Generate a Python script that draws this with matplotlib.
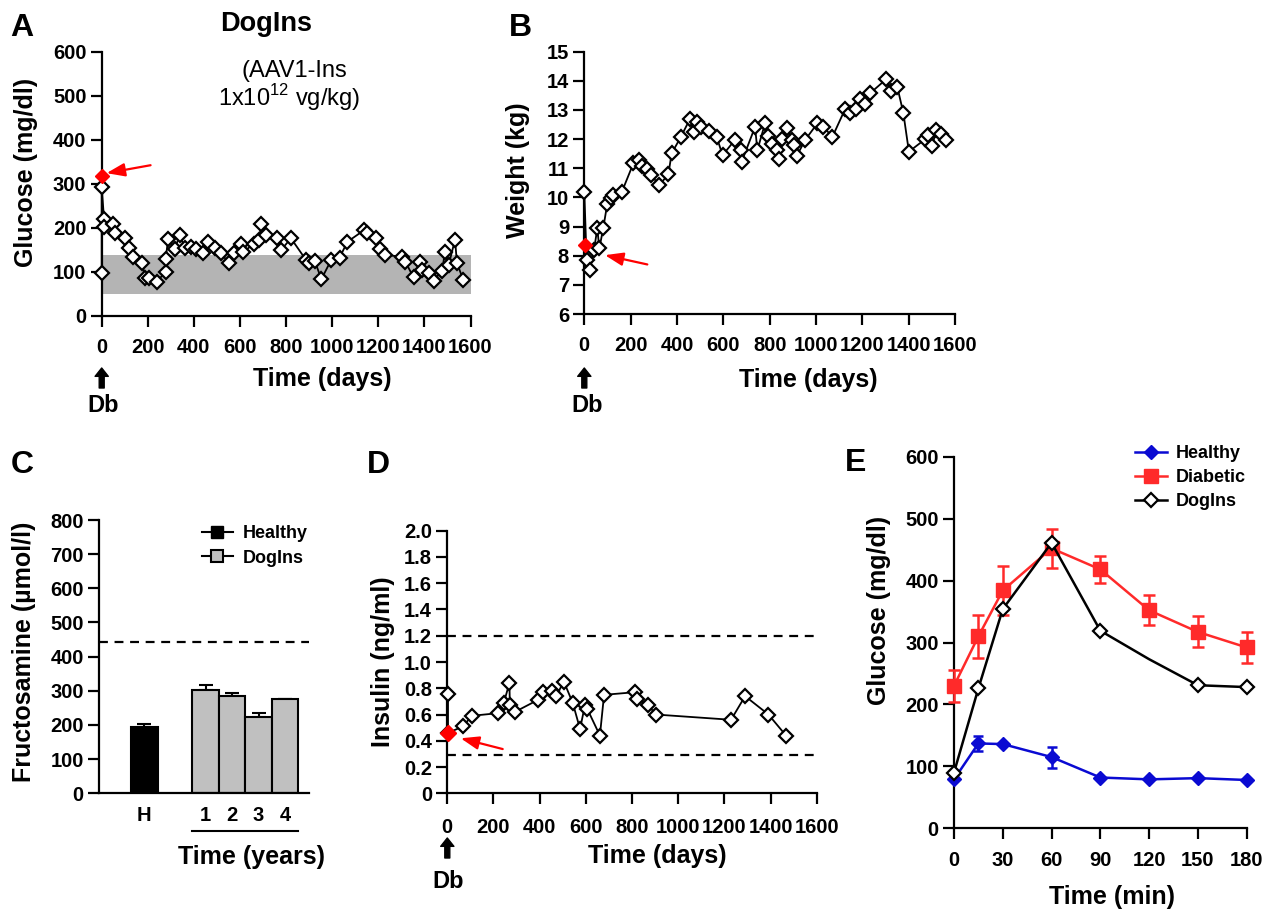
import numpy as np
import matplotlib
matplotlib.use('Agg')
import matplotlib.pyplot as plt
from matplotlib.lines import Line2D

# ---- data ----
# A: blood glucose over time
glu_days = [0, 0, 10, 10, 48, 58, 101, 120, 137, 177, 187, 206, 238, 278, 278, 288, 317, 338, 360, 389,
            410, 439, 461, 490, 518, 551, 576, 605, 612, 662, 684, 691, 713, 759, 778, 821, 886, 900, 924, 953,
            996, 1032, 1066, 1140, 1152, 1188, 1209, 1231, 1303, 1317, 1353, 1382, 1390, 1418, 1440, 1476, 1490,
            1505, 1533, 1541, 1569]
glu_values = [98, 293, 220, 201, 208, 189, 177, 153, 134, 119, 85, 85, 77, 100, 130, 174, 151, 183, 155, 157,
              151, 143, 168, 153, 142, 120, 142, 164, 144, 164, 173, 208, 183, 176, 149, 176, 127, 120, 125, 83,
              127, 132, 168, 195, 189, 176, 151, 138, 134, 123, 87, 121, 104, 96, 80, 102, 145, 115, 173, 120, 81]
glu_db = (3, 317)
glu_normal_range = (50, 138)

# B: body weight over time
wt_days = [0, 10, 24, 42, 56, 65, 82, 99, 114, 125, 161, 212, 236, 247, 272, 288, 324, 363, 377, 417,
           456, 473, 485, 504, 540, 571, 597, 650, 675, 679, 737, 747, 780, 794, 811, 830, 840, 852, 876, 895,
           905, 917, 953, 1006, 1032, 1071, 1125, 1146, 1173, 1190, 1211, 1233, 1302, 1322, 1351, 1377, 1401,
           1470, 1485, 1502, 1518, 1538, 1561]
wt_values = [10.19, 7.85, 7.51, 8.19, 8.94, 8.25, 8.96, 9.77, 9.97, 10.08, 10.17, 11.17, 11.30, 11.07, 10.99,
             10.77, 10.42, 10.80, 11.51, 12.08, 12.69, 12.23, 12.59, 12.40, 12.29, 12.08, 11.45, 11.97, 11.62,
             11.22, 12.42, 11.62, 12.54, 12.10, 11.85, 11.62, 11.31, 12.02, 12.37, 11.97, 11.79, 11.42, 11.97,
             12.54, 12.42, 12.08, 13.02, 12.90, 13.02, 13.39, 13.20, 13.57, 14.05, 13.65, 13.79, 12.90, 11.57,
             11.99, 12.14, 11.76, 12.31, 12.17, 11.97]
wt_db = (3, 8.37)

# C: fructosamine
fru_labels = ['H', '1', '2', '3', '4']
fru_healthy = 195
fru_healthy_se = 7
fru_dogins = [302, 286, 222, 275]
fru_dogins_se = [15, 7, 14, 2]
fru_limit = 444

# D: insulin over time
ins_days = [3, 3, 69, 105, 218, 245, 269, 271, 293, 391, 416, 452, 471, 505, 543, 575, 596, 607, 661, 679,
            813, 823, 871, 903, 1229, 1290, 1391, 1467]
ins_values = [0.76, 0.46, 0.51, 0.59, 0.61, 0.69, 0.84, 0.67, 0.62, 0.71, 0.77, 0.78, 0.74, 0.85, 0.69, 0.49,
              0.67, 0.64, 0.44, 0.75, 0.77, 0.72, 0.67, 0.60, 0.56, 0.74, 0.60, 0.44]
ins_db = (3, 0.46)
ins_range = (0.29, 1.20)

# E: glucose tolerance test
ogtt_time = [0, 15, 30, 60, 90, 120, 150, 180]
ogtt_healthy = [79, 137, 136, 115, 82, 79, 81, 78]
ogtt_healthy_se = [0, 12, 0, 17, 0, 0, 0, 0]
ogtt_diabetic = [230, 310, 384, 452, 418, 352, 317, 292]
ogtt_diabetic_se = [26, 35, 40, 31, 22, 24, 25, 25]
ogtt_dogins = [90, 226, 354, 461, 319, 273, 231, 228]

# ---- figure setup ----
plt.rcParams['font.family'] = ['Liberation Sans', 'DejaVu Sans']
plt.rcParams['font.weight'] = 'bold'
plt.rcParams['axes.labelweight'] = 'bold'

W, H = 1267, 911
fig = plt.figure(figsize=(W / 100, H / 100), dpi=100)

BLUE = '#0a0ad2'
RED = '#ff2a2a'


def rect(x0, y0, x1, y1):
    # pixel box -> figure fraction
    return [x0 / W, 1 - y1 / H, (x1 - x0) / W, (y1 - y0) / H]


def ftext(x, y, s, **kw):
    fig.text(x / W, 1 - y / H, s, ha='center', va='center', **kw)


def style(ax, xpad=8):
    for s in ['top', 'right']:
        ax.spines[s].set_visible(False)
    for s in ['left', 'bottom']:
        ax.spines[s].set_linewidth(1.6)
    ax.tick_params(direction='out', length=8, width=1.6, labelsize=14.5)
    ax.tick_params(axis='x', pad=xpad)
    ax.tick_params(axis='y', pad=3)


def db_arrow(ax, y_top, y_bot):
    ax.annotate('', xy=(0, H - y_top), xytext=(0, H - y_bot),
                xycoords=('data', 'figure pixels'), textcoords=('data', 'figure pixels'),
                arrowprops=dict(facecolor='k', edgecolor='k', width=3.6, headwidth=9.5,
                                headlength=6, shrink=0), annotation_clip=False)


def red_arrow(ax, head, tail):
    ax.annotate('', xy=head, xytext=tail,
                arrowprops=dict(arrowstyle='-|>,head_length=0.55,head_width=0.2', color='red',
                                lw=1.6, mutation_scale=20, shrinkA=0, shrinkB=0))


diamond = dict(marker='D', ms=6.8, mfc='white', mec='k', mew=1.6, color='k', lw=1.3, clip_on=False)
red_diamond = dict(marker='D', ms=7, mfc='red', mec='red', ls='none', clip_on=False, zorder=5)

# ---- A: glucose ----
axA = fig.add_axes(rect(101.7, 51.7, 470.5, 315.7))
style(axA)
axA.axhspan(*glu_normal_range, color='#b4b4b4', lw=0, zorder=0)
axA.plot(glu_days, glu_values, zorder=3, **diamond)
axA.plot(*glu_db, **red_diamond)
axA.set_xlim(0, 1600)
axA.set_ylim(0, 600)
axA.set_xticks(np.arange(0, 1601, 200))
axA.set_yticks(np.arange(0, 601, 100))
red_arrow(axA, (21, 324), (212, 342))
db_arrow(axA, 368, 388)
ftext(103, 406, 'Db', fontsize=17)
ftext(26, 172, 'Glucose (mg/dl)', fontsize=18, rotation=90)
ftext(322, 379, 'Time (days)', fontsize=18)
ftext(22, 28, 'A', fontsize=23)
ftext(266, 24, 'DogIns', fontsize=19.5)
ftext(294, 71, '(AAV1-Ins', fontsize=17, fontweight='normal')
ftext(289, 98, r'1x10$^{\mathregular{12}}$ vg/kg)', fontsize=17, fontweight='normal')

# ---- B: weight ----
axB = fig.add_axes(rect(584.3, 51.7, 955, 314))
style(axB)
axB.plot(wt_days, wt_values, zorder=3, **diamond)
axB.plot(*wt_db, **red_diamond)
axB.set_xlim(0, 1600)
axB.set_ylim(6, 15)
axB.set_xticks(np.arange(0, 1601, 200))
axB.set_yticks(np.arange(6, 16, 1))
red_arrow(axB, (89, 8.02), (272, 7.70))
db_arrow(axB, 368, 388)
ftext(587, 406, 'Db', fontsize=17)
ftext(518, 170, 'Weight (kg)', fontsize=18, rotation=90)
ftext(808, 380, 'Time (days)', fontsize=18)
ftext(520, 28, 'B', fontsize=23)

# ---- C: fructosamine bars ----
axC = fig.add_axes(rect(99, 520, 309, 793.3))
style(axC)
h_pos = 1.67
d_pos = 3.95 + np.arange(len(fru_dogins)) * 0.98
axC.bar(h_pos, fru_healthy, width=1.0, color='k', edgecolor='k', lw=1.5, zorder=2)
axC.bar(d_pos, fru_dogins, width=0.98, color='#c0c0c0', edgecolor='k', lw=1.5, zorder=2)
axC.errorbar([h_pos], [fru_healthy], yerr=[[0], [fru_healthy_se]], fmt='none', ecolor='k',
             elinewidth=1.5, capsize=5, capthick=1.5, zorder=1)
axC.errorbar(d_pos, fru_dogins, yerr=[np.zeros(4), fru_dogins_se], fmt='none', ecolor='k',
             elinewidth=1.5, capsize=5, capthick=1.5, zorder=1)
axC.axhline(fru_limit, color='k', lw=1.6, ls=(0, (4, 3)))
axC.set_xlim(0, 7.78)
axC.set_ylim(0, 800)
axC.set_yticks(np.arange(0, 801, 100))
axC.set_xticks(np.concatenate([[h_pos], d_pos]))
axC.set_xticklabels(fru_labels)
axC.tick_params(axis='x', length=0, pad=9)
axC.plot([d_pos[0] - 0.49, d_pos[-1] + 0.49], [-0.138, -0.138], color='k', lw=1.5,
         transform=axC.get_xaxis_transform(), clip_on=False)
legC = [Line2D([], [], color='k', lw=1.5, marker='s', ms=8, mfc='k', mec='k'),
        Line2D([], [], color='k', lw=1.5, marker='s', ms=8, mfc='#c0c0c0', mec='k', mew=1.5)]
axC.legend(legC, ['Healthy', 'DogIns'], loc='upper left', bbox_to_anchor=(201.7 / W, 1 - 525 / H),
           bbox_transform=fig.transFigure, frameon=False, borderpad=0, borderaxespad=0,
           handlelength=1.75, handletextpad=0.5, labelspacing=0.42, prop={'weight': 'bold', 'size': 13})
ftext(24, 652, 'Fructosamine (µmol/l)', fontsize=18, rotation=90)
ftext(252, 857, 'Time (years)', fontsize=18)
ftext(22, 465, 'C', fontsize=23)

# ---- D: insulin ----
axD = fig.add_axes(rect(447.3, 530.7, 816.7, 793.3))
style(axD, xpad=10)
for lvl in ins_range:
    axD.axhline(lvl, color='k', lw=1.6, ls=(0, (4, 3)))
axD.plot(ins_days, ins_values, zorder=3, **diamond)
axD.plot(*ins_db, marker='D', ms=8.5, mfc='red', mec='red', ls='none', clip_on=False, zorder=5)
axD.set_xlim(0, 1600)
axD.set_ylim(0, 2.0)
axD.set_xticks(np.arange(0, 1601, 200))
yt = np.arange(0, 2.01, 0.2)
axD.set_yticks(yt)
axD.set_yticklabels(['0'] + ['%.1f' % v for v in yt[1:]])
red_arrow(axD, (58, 0.419), (240, 0.337))
db_arrow(axD, 838, 858)
ftext(448, 881, 'Db', fontsize=17)
ftext(383, 662, 'Insulin (ng/ml)', fontsize=18, rotation=90)
ftext(657, 856, 'Time (days)', fontsize=18)
ftext(378, 465, 'D', fontsize=23)

# ---- E: glucose tolerance ----
axE = fig.add_axes(rect(954, 456.7, 1246.7, 828.3))
style(axE)
t = np.array(ogtt_time)
axE.errorbar(t, ogtt_diabetic, yerr=ogtt_diabetic_se, fmt='-s', color=RED, ms=10, lw=1.8,
             elinewidth=1.8, capsize=4.5, capthick=1.8, clip_on=False, zorder=3)
hse = np.array(ogtt_healthy_se)
hv = np.array(ogtt_healthy)
axE.errorbar(t[hse > 0], hv[hse > 0], yerr=hse[hse > 0], fmt='none', ecolor=BLUE,
             elinewidth=1.8, capsize=3.5, capthick=1.8, zorder=3)
axE.plot(t, hv, '-D', color=BLUE, ms=6.8, lw=1.8, clip_on=False, zorder=4)
axE.plot(t, ogtt_dogins, '-D', color='k', mfc='white', mec='k', mew=1.6, ms=6.8, lw=1.8,
         markevery=[0, 1, 2, 3, 4, 6, 7], clip_on=False, zorder=5)
axE.set_xlim(0, 180)
axE.set_ylim(0, 600)
axE.set_xticks(np.arange(0, 181, 30))
axE.set_yticks(np.arange(0, 601, 100))
legE = [Line2D([], [], color=BLUE, lw=1.8, marker='D', ms=6.8),
        Line2D([], [], color=RED, lw=1.8, marker='s', ms=10),
        Line2D([], [], color='k', lw=1.8, marker='D', ms=6.8, mfc='white', mew=1.6)]
axE.legend(legE, ['Healthy', 'Diabetic', 'DogIns'], loc='upper left',
           bbox_to_anchor=(1135 / W, 1 - 445 / H), bbox_transform=fig.transFigure, frameon=False,
           borderpad=0, borderaxespad=0, handlelength=1.75, handletextpad=0.5, labelspacing=0.4,
           prop={'weight': 'bold', 'size': 13})
ftext(879, 610, 'Glucose (mg/dl)', fontsize=18, rotation=90)
ftext(1112, 897, 'Time (min)', fontsize=18)
ftext(856, 463, 'E', fontsize=23)

fig.savefig('out.png', dpi=100)
